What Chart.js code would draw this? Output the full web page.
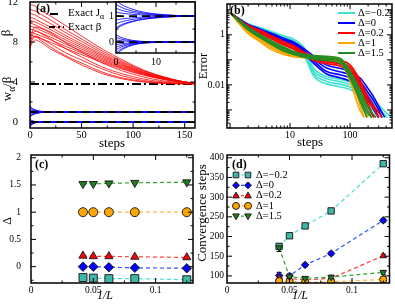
<!DOCTYPE html>
<html>
<head>
<meta charset="utf-8">
<script src="https://cdn.jsdelivr.net/npm/chart.js@4.4.1/dist/chart.umd.min.js"></script>
<style>
  body { margin: 0; background: #fff; }
  #wrap { position: relative; width: 395px; height: 305px; }
  #wrap canvas { position: absolute; left: 0; top: 0; pointer-events: none; }
</style>
</head>
<body>
<div id="wrap">
  <canvas id="ca" width="395" height="305"></canvas>
  <canvas id="cai" width="395" height="305"></canvas>
  <canvas id="cb" width="395" height="305"></canvas>
  <canvas id="cc" width="395" height="305"></canvas>
  <canvas id="cd" width="395" height="305"></canvas>
</div>
<script>
// ---------- (a) beta and couplings against steps ----------
const aSteps = [0, 2, 5, 10, 20, 35, 50, 70, 90, 110, 130, 150, 160];
const aBetaRuns = [
  [11.8, 11.7, 11.6, 11.2, 10.6, 9.6, 8.6, 7.3, 6.2, 5.2, 4.5, 4.0, 3.9],
  [11.3, 11.2, 11.1, 10.8, 10.2, 9.2, 8.3, 7.1, 6.05, 5.15, 4.5, 4.0, 3.88],
  [10.9, 10.8, 10.7, 10.4, 9.84, 8.91, 8.06, 6.92, 5.93, 5.08, 4.44, 4.01, 3.87],
  [10.5, 10.4, 10.3, 10.0, 9.5, 8.62, 7.82, 6.75, 5.81, 5.0, 4.4, 4.0, 3.87],
  [10.2, 10.1, 10.0, 9.75, 9.24, 8.41, 7.64, 6.62, 5.72, 4.95, 4.38, 3.99, 3.86],
  [9.9, 9.84, 9.72, 9.47, 8.99, 8.19, 7.46, 6.48, 5.63, 4.9, 4.35, 3.98, 3.86],
  [9.6, 9.54, 9.43, 9.19, 8.73, 7.98, 7.28, 6.35, 5.54, 4.84, 4.32, 3.97, 3.86],
  [9.3, 9.25, 9.14, 8.92, 8.48, 7.76, 7.1, 6.22, 5.45, 4.79, 4.3, 3.97, 3.86],
  [9.0, 8.95, 8.84, 8.64, 8.22, 7.54, 6.92, 6.09, 5.36, 4.74, 4.27, 3.96, 3.85],
  [8.7, 8.65, 8.55, 8.36, 7.97, 7.33, 6.74, 5.96, 5.27, 4.68, 4.24, 3.95, 3.85],
  [7.6, 8.2, 8.6, 8.4, 7.8, 6.9, 6.2, 5.3, 4.6, 4.15, 3.92, 3.84, 3.82],
  [7.9, 8.6, 9.1, 8.9, 8.3, 7.3, 6.5, 5.5, 4.8, 4.3, 4.0, 3.86, 3.83],
  [8.3, 9.0, 9.5, 9.4, 8.9, 7.9, 7.0, 5.9, 5.1, 4.5, 4.1, 3.9, 3.84],
  [8.1, 8.4, 8.5, 8.2, 7.5, 6.6, 5.9, 5.0, 4.4, 4.05, 3.88, 3.82, 3.82],
  [7.4, 7.9, 8.2, 8.0, 7.3, 6.5, 5.7, 4.85, 4.3, 4.0, 3.86, 3.82, 3.81]
];
const aJSteps = [0, 1, 2, 4, 6, 9, 12, 15, 18, 20, 160];
const aJ1Runs = [
  [1.6, 1.48, 1.39, 1.27, 1.18, 1.1, 1.054, 1.024, 1.009, 1.003, 1],
  [1.45, 1.36, 1.29, 1.2, 1.135, 1.077, 1.04, 1.018, 1.007, 1.002, 1],
  [1.3, 1.24, 1.195, 1.135, 1.09, 1.051, 1.027, 1.012, 1.005, 1.0, 1],
  [1.15, 1.12, 1.1, 1.068, 1.045, 1.026, 1.014, 1.006, 1.002, 1.0, 1],
  [0.85, 0.88, 0.9, 0.93, 0.955, 0.974, 0.986, 0.994, 0.998, 1.0, 1],
  [0.7, 0.76, 0.805, 0.865, 0.91, 0.949, 0.973, 0.988, 0.995, 1.0, 1],
  [0.55, 0.64, 0.71, 0.8, 0.865, 0.923, 0.96, 0.982, 0.993, 0.998, 1],
  [0.5, 0.6, 0.675, 0.775, 0.85, 0.915, 0.955, 0.98, 0.992, 0.998, 1]
];
const aJ0Runs = [
  [0.28, 0.196, 0.14, 0.07, 0.034, 0.011, 0.003, 0, 0, 0, 0],
  [0.18, 0.126, 0.09, 0.045, 0.022, 0.007, 0.002, 0, 0, 0, 0],
  [0.08, 0.056, 0.04, 0.02, 0.01, 0.003, 0.001, 0, 0, 0, 0],
  [-0.1, -0.07, -0.05, -0.025, -0.012, -0.004, -0.001, 0, 0, 0, 0],
  [-0.2, -0.14, -0.1, -0.05, -0.024, -0.008, -0.002, 0, 0, 0, 0],
  [-0.3, -0.21, -0.15, -0.075, -0.036, -0.012, -0.003, 0, 0, 0, 0],
  [-0.42, -0.294, -0.21, -0.105, -0.05, -0.017, -0.004, 0, 0, 0, 0],
  [-0.5, -0.35, -0.25, -0.125, -0.06, -0.02, -0.005, 0, 0, 0, 0]
];
const aExactJ = [1, 0];
const aExactBeta = 3.8;
const aXTicks = [0, 50, 100, 150];
const aYTicks = [0, 4, 8, 12];
const aInsetXTicks = [0, 10];
const aInsetYTicks = [0, 1];

// ---------- (b) error against steps, one band per Delta ----------
const deltaNames = ['Δ=−0.2', 'Δ=0', 'Δ=0.2', 'Δ=1', 'Δ=1.5'];
const bStepsCyan = [1, 2, 3, 5, 8, 12, 17, 25, 40, 70, 100, 150, 200, 300, 350, 420, 480];
const bCyanRuns = [
  [7.6, 2.8, 2.0, 1.32, 0.89, 0.63, 0.32, 0.045, 0.022, 0.0166, 0.0132, 0.0079, 0.0045, 0.0016, 0.00105, 0.0007, 0.0005],
  [7.6, 2.6, 1.86, 1.2, 0.79, 0.56, 0.25, 0.035, 0.018, 0.0132, 0.0105, 0.006, 0.0032, 0.0011, 0.00076, 0.0005, null],
  [7.6, 2.5, 1.74, 1.1, 0.71, 0.5, 0.2, 0.028, 0.014, 0.0105, 0.0083, 0.0047, 0.0024, 0.0008, 0.0005, null, null],
  [7.6, 2.4, 1.58, 1.0, 0.63, 0.45, 0.16, 0.022, 0.011, 0.0083, 0.0066, 0.0035, 0.0016, 0.0005, null, null, null]
];
const bStepsBlue = [1, 2, 3, 5, 8, 12, 17, 25, 40, 70, 100, 150, 200, 250, 300, 340, 380];
const bBlueRuns = [
  [7.6, 2.6, 1.78, 1.12, 0.71, 0.48, 0.28, 0.14, 0.063, 0.045, 0.035, 0.018, 0.0071, 0.0032, 0.0014, 0.0008, 0.0005],
  [7.6, 2.5, 1.66, 1.05, 0.63, 0.44, 0.24, 0.11, 0.048, 0.033, 0.025, 0.0126, 0.005, 0.0022, 0.001, 0.0005, null],
  [7.6, 2.4, 1.55, 0.95, 0.58, 0.4, 0.21, 0.089, 0.035, 0.025, 0.019, 0.0095, 0.0035, 0.0014, 0.0005, null, null],
  [7.6, 2.3, 1.45, 0.89, 0.52, 0.36, 0.18, 0.071, 0.028, 0.019, 0.014, 0.0071, 0.0025, 0.001, 0.0005, null, null]
];
const bStepsRed = [1, 2, 3, 5, 8, 12, 17, 25, 40, 70, 100, 150, 200, 250, 300, 340];
const bRedRuns = [
  [7.6, 2.4, 1.58, 0.89, 0.52, 0.35, 0.2, 0.14, 0.11, 0.095, 0.063, 0.014, 0.0032, 0.0014, 0.0008, 0.0005],
  [7.6, 2.24, 1.45, 0.79, 0.47, 0.32, 0.18, 0.126, 0.095, 0.079, 0.05, 0.0105, 0.0022, 0.0011, 0.0005, null],
  [7.6, 2.14, 1.32, 0.72, 0.42, 0.28, 0.16, 0.11, 0.083, 0.066, 0.04, 0.0079, 0.0017, 0.0005, null, null],
  [7.6, 2.0, 1.2, 0.66, 0.38, 0.25, 0.14, 0.095, 0.071, 0.055, 0.032, 0.006, 0.00126, 0.0005, null, null]
];
const bStepsOrange = [1, 2, 3, 5, 8, 12, 17, 25, 40, 70, 100, 140, 170, 200];
const bOrangeRuns = [
  [7.6, 1.41, 0.76, 0.35, 0.2, 0.16, 0.145, 0.138, 0.132, 0.105, 0.028, 0.0035, 0.001, 0.0005],
  [7.6, 1.26, 0.66, 0.3, 0.18, 0.145, 0.135, 0.126, 0.117, 0.089, 0.02, 0.0022, 0.0005, null],
  [7.6, 1.12, 0.58, 0.25, 0.16, 0.132, 0.123, 0.115, 0.105, 0.076, 0.014, 0.00126, 0.0005, null]
];
const bStepsGreen = [1, 2, 3, 5, 8, 12, 17, 25, 40, 70, 100, 150, 190, 230, 270];
const bGreenRuns = [
  [7.6, 2.0, 1.12, 0.56, 0.32, 0.21, 0.166, 0.148, 0.138, 0.112, 0.035, 0.0056, 0.0016, 0.0008, 0.0005],
  [7.6, 1.86, 1.0, 0.5, 0.28, 0.19, 0.15, 0.132, 0.12, 0.095, 0.028, 0.004, 0.0011, 0.0005, null],
  [7.6, 1.74, 0.91, 0.45, 0.25, 0.17, 0.138, 0.117, 0.107, 0.083, 0.022, 0.0028, 0.0008, 0.0005, null],
  [7.6, 1.58, 0.83, 0.4, 0.22, 0.16, 0.126, 0.107, 0.095, 0.071, 0.018, 0.002, 0.0005, null, null]
];
const bXTicks = [10, 100];
const bYTicks = [0.01, 1];

// ---------- (c) fitted Delta and (d) convergence steps against 1/L ----------
const invL = [0.0417, 0.05, 0.0625, 0.0833, 0.125];
const cCyan = [-0.2, -0.21, -0.22, -0.22, -0.24];
const cBlue = [0, 0, -0.01, -0.02, -0.03];
const cRed = [0.2, 0.19, 0.19, 0.18, 0.17];
const cOrange = [1, 1, 1, 1, 1];
const cGreen = [1.52, 1.52, 1.53, 1.54, 1.55];
const dCyan = [175, 202, 227, 265, 385];
const dBlue = [101, 100, 128, 157, 241];
const dRed = [95, 93, 90, 94, 151];
const dOrange = [87, 86, 84, 85, 91];
const dGreen = [172, 98, 94, 97, 109];
const dErrCyan = [4, 4, 4, 4, 5];
const dErrBlue = [8, 5, 4, 4, 5];
const dErrRed = [6, 4, 3, 3, 4];
const dErrOrange = [3, 3, 2, 2, 6];
const dErrGreen = [10, 6, 4, 4, 5];
const cdXTicks = [0, 0.05, 0.1];
const cYTicks = [0, 0.5, 1, 1.5, 2];
const dYTicks = [100, 150, 200, 250, 300, 350, 400];

// ---------- looks ----------
const SERIF = '"Liberation Serif", "DejaVu Serif", serif';
const W = 395, H = 305;
const lineCols = ['#40e0d0', '#0000ff', '#ff0000', '#ffa500', '#228b22'];
const dashCols = ['#48e0d0', '#3050ff', '#ff3a3a', '#ffb74a', '#33a033'];
const fillCols = ['#3cb8a8', '#0000ff', '#ff0000', '#ffa500', '#1f801f'];
const shapes = [
  {style: 'rect', rot: 0}, {style: 'rectRot', rot: 0}, {style: 'triangle', rot: 0},
  {style: 'circle', rot: 0}, {style: 'triangle', rot: 180}
];

function pts(xs, ys) {
  return xs.map((x, i) => ({x: x, y: ys[i]}));
}

function pad(area, yW, xH) {
  return {left: area.l - yW, top: area.t, right: W - area.r, bottom: H - area.b - xH};
}

function axis(o) {
  return {
    type: o.type || 'linear', min: o.min, max: o.max,
    grid: {display: false, drawTicks: false}, border: {display: false},
    ticks: {
      autoSkip: false, maxRotation: 0, minRotation: 0, padding: o.pad, color: '#000',
      font: {family: SERIF, size: o.size},
      callback: v => String(v)
    },
    afterBuildTicks: s => { s.ticks = o.labels.map(v => ({value: v})); },
    afterFit: s => {
      if (s.isHorizontal()) s.height = o.box; else s.width = o.box;
      s.paddingLeft = 0; s.paddingRight = 0; s.paddingTop = 0; s.paddingBottom = 0;
    }
  };
}

function logMarks(lo, hi) {
  const major = [], minor = [];
  for (let e = lo; e <= hi; e++) {
    const b = Math.pow(10, e);
    major.push(b);
    for (let n = 2; n <= 9; n++) minor.push(n * b);
  }
  return {major, minor};
}

function drawRich(ctx, t) {
  const size = t.size || 12;
  ctx.save();
  ctx.translate(t.x, t.y);
  if (t.rot) ctx.rotate(t.rot * Math.PI / 180);
  ctx.fillStyle = '#000';
  ctx.textBaseline = 'middle';
  ctx.textAlign = 'left';
  const fontOf = p => (t.italic ? 'italic ' : '') + (t.bold ? 'bold ' : '') +
    (p[1] === 'sub' ? size * 0.72 : size) + 'px ' + SERIF;
  let total = 0;
  t.parts.forEach(p => { ctx.font = fontOf(p); total += ctx.measureText(p[0]).width; });
  let x = t.align === 'left' ? 0 : -total / 2;
  t.parts.forEach(p => {
    ctx.font = fontOf(p);
    ctx.fillText(p[0], x, p[1] === 'sub' ? size * 0.32 : 0);
    x += ctx.measureText(p[0]).width;
  });
  ctx.restore();
}

function drawMarker(ctx, shape, x, y, r, fill) {
  ctx.save();
  ctx.fillStyle = fill; ctx.strokeStyle = '#222'; ctx.lineWidth = 1;
  ctx.beginPath();
  if (shape.style === 'rect') {
    ctx.rect(x - r * 0.8, y - r * 0.8, r * 1.6, r * 1.6);
  } else if (shape.style === 'rectRot') {
    ctx.moveTo(x, y - r); ctx.lineTo(x + r, y); ctx.lineTo(x, y + r); ctx.lineTo(x - r, y); ctx.closePath();
  } else if (shape.style === 'circle') {
    ctx.arc(x, y, r, 0, Math.PI * 2);
  } else {
    const s = shape.rot ? -1 : 1;
    ctx.moveTo(x, y - s * r); ctx.lineTo(x + r * 0.95, y + s * r * 0.65); ctx.lineTo(x - r * 0.95, y + s * r * 0.65); ctx.closePath();
  }
  ctx.fill(); ctx.stroke();
  ctx.restore();
}

// frame, inward ticks, titles, keys and error bars for one panel
function deco(o) {
  return {
    id: 'deco',
    beforeDraw(chart) {
      if (!o.fill) return;
      const a = chart.chartArea, ctx = chart.ctx;
      ctx.save(); ctx.fillStyle = o.fill;
      ctx.fillRect(a.left, a.top, a.right - a.left, a.bottom - a.top);
      ctx.restore();
    },
    beforeDatasetsDraw(chart) {
      const ctx = chart.ctx, ys = chart.scales.y;
      chart.data.datasets.forEach((ds, i) => {
        if (!ds.errY) return;
        const meta = chart.getDatasetMeta(i);
        ctx.save(); ctx.strokeStyle = '#000'; ctx.lineWidth = 1;
        meta.data.forEach((el, j) => {
          const v = ds.data[j].y, e = ds.errY[j];
          const y1 = ys.getPixelForValue(v - e), y2 = ys.getPixelForValue(v + e);
          ctx.beginPath();
          ctx.moveTo(el.x, y1); ctx.lineTo(el.x, y2);
          ctx.moveTo(el.x - 2.5, y1); ctx.lineTo(el.x + 2.5, y1);
          ctx.moveTo(el.x - 2.5, y2); ctx.lineTo(el.x + 2.5, y2);
          ctx.stroke();
        });
        ctx.restore();
      });
    },
    afterDraw(chart) {
      const ctx = chart.ctx, a = chart.chartArea;
      const xs = chart.scales.x, ys = chart.scales.y;
      ctx.save();
      ctx.strokeStyle = '#000'; ctx.lineWidth = 1;
      const seg = (x1, y1, x2, y2) => { ctx.beginPath(); ctx.moveTo(x1, y1); ctx.lineTo(x2, y2); ctx.stroke(); };
      const marks = (scale, vals, len) => (vals || []).forEach(v => {
        const p = scale.getPixelForValue(v);
        if (scale.isHorizontal()) {
          if (p < a.left + 1 || p > a.right - 1) return;
          seg(p, a.bottom, p, a.bottom - len); seg(p, a.top, p, a.top + len);
        } else {
          if (p < a.top + 1 || p > a.bottom - 1) return;
          seg(a.left, p, a.left + len, p); seg(a.right, p, a.right - len, p);
        }
      });
      marks(xs, o.xMajor, 5); marks(xs, o.xMinor, 2.5);
      marks(ys, o.yMajor, 5); marks(ys, o.yMinor, 2.5);
      ctx.lineWidth = 1.5;
      ctx.strokeRect(a.left, a.top, a.right - a.left, a.bottom - a.top);
      (o.keys || []).forEach(k => {
        if (k.marker) {
          drawMarker(ctx, k.marker, k.x, k.y, k.r, k.color);
        } else {
          ctx.save();
          ctx.strokeStyle = k.color; ctx.lineWidth = k.width; ctx.setLineDash(k.dash || []);
          seg(k.x1, k.y, k.x2, k.y);
          ctx.restore();
        }
      });
      (o.texts || []).forEach(t => drawRich(ctx, t));
      ctx.restore();
    }
  };
}

function options(padding, scales) {
  return {
    responsive: false, animation: false, events: [],
    layout: {padding: padding},
    scales: scales,
    elements: {point: {radius: 0}, line: {borderCapStyle: 'butt'}},
    plugins: {legend: {display: false}, tooltip: {enabled: false}}
  };
}

function runLine(xs, ys, color, width) {
  return {data: pts(xs, ys), borderColor: color, borderWidth: width, pointRadius: 0,
    fill: false, cubicInterpolationMode: 'monotone'};
}

// ---------- panel (a) ----------
const areaA = {l: 30, t: 2, r: 195, b: 128};
const aSets = [];
aJ1Runs.concat(aJ0Runs).forEach(r => aSets.push(runLine(aJSteps, r, '#0000ff', 0.8)));
aExactJ.forEach(v => aSets.push({data: pts([0, 160], [v, v]), borderColor: '#000', borderWidth: 1.8,
  borderDash: [8, 5], pointRadius: 0}));
aSets.push({data: pts([0, 160], [aExactBeta, aExactBeta]), borderColor: '#000', borderWidth: 1.8,
  borderDash: [9, 3, 2, 3], pointRadius: 0});
aBetaRuns.forEach(r => aSets.push(runLine(aSteps, r, '#ff0000', 0.8)));
aSets.reverse();

new Chart(document.getElementById('ca'), {
  type: 'line',
  data: {datasets: aSets},
  options: options(pad(areaA, 30, 16), {
    x: axis({min: 0, max: 160, labels: aXTicks, pad: 1, size: 10.5, box: 16}),
    y: axis({min: -0.6, max: 12, labels: aYTicks, pad: 12, size: 10.5, box: 30})
  }),
  plugins: [deco({
    xMajor: aXTicks, xMinor: [25, 75, 125], yMajor: aYTicks, yMinor: [2, 6, 10],
    keys: [
      {x1: 50, x2: 58, y: 14, color: '#000', width: 2},
      {x1: 49, x2: 64, y: 27, color: '#000', width: 2, dash: [6, 3, 2, 3]}
    ],
    texts: [
      {parts: [['steps']], x: 112, y: 144, size: 13},
      {parts: [['β']], x: 7, y: 33, size: 13, rot: -90},
      {parts: [['w'], ['α', 'sub'], ['/β']], x: 8, y: 89, size: 13, rot: -90},
      {parts: [['(a)']], x: 36, y: 9, size: 12, bold: true, align: 'left'},
      {parts: [['Exact J'], ['α', 'sub']], x: 68, y: 13, size: 11, align: 'left'},
      {parts: [['Exact β']], x: 68, y: 27, size: 11, align: 'left'}
    ]
  })]
});

// inset of (a)
const areaAi = {l: 116, t: 2, r: 195, b: 53};
const aiSets = [];
aJ1Runs.concat(aJ0Runs).forEach(r => aiSets.push(runLine(aJSteps, r, '#0000ff', 0.8)));
aExactJ.forEach(v => aiSets.push({data: pts([0, 160], [v, v]), borderColor: '#000', borderWidth: 1.8,
  borderDash: [8, 5], pointRadius: 0}));
aiSets.reverse();

new Chart(document.getElementById('cai'), {
  type: 'line',
  data: {datasets: aiSets},
  options: options(pad(areaAi, 12, 14), {
    x: axis({min: 0, max: 19.75, labels: aInsetXTicks, pad: 3, size: 10, box: 14}),
    y: axis({min: -0.42, max: 1.54, labels: aInsetYTicks, pad: 2, size: 10, box: 12})
  }),
  plugins: [deco({
    fill: '#fff',
    xMajor: aInsetXTicks, xMinor: [5, 15], yMajor: aInsetYTicks, yMinor: [0.5]
  })]
});

// ---------- panel (b) ----------
const areaB = {l: 227, t: 4, r: 392, b: 128};
const bSets = [];
[[bStepsCyan, bCyanRuns], [bStepsBlue, bBlueRuns], [bStepsRed, bRedRuns],
 [bStepsOrange, bOrangeRuns], [bStepsGreen, bGreenRuns]].forEach((g, k) => {
  g[1].forEach(r => bSets.push(runLine(g[0], r, lineCols[k], 1.6)));
});
bSets.reverse();
const bxm = logMarks(0, 2), bym = logMarks(-4, 1);
const bKeys = [], bTexts = [];
deltaNames.forEach((n, k) => {
  const y = 13 + k * 10;
  bKeys.push({x1: 338, x2: 355, y: y, color: lineCols[k], width: 2});
  bTexts.push({parts: [[n]], x: 358, y: y, size: 10.5, align: 'left'});
});

new Chart(document.getElementById('cb'), {
  type: 'line',
  data: {datasets: bSets},
  options: options(pad(areaB, 30, 16), {
    x: axis({type: 'logarithmic', min: 0.89, max: 500, labels: bXTicks, pad: 1, size: 10, box: 16}),
    y: axis({type: 'logarithmic', min: 0.00019, max: 17, labels: bYTicks, pad: 2, size: 10, box: 30})
  }),
  plugins: [deco({
    xMajor: bxm.major, xMinor: bxm.minor, yMajor: bym.major, yMinor: bym.minor,
    keys: bKeys,
    texts: bTexts.concat([
      {parts: [['steps']], x: 310, y: 143, size: 13},
      {parts: [['Error']], x: 204, y: 66, size: 12.5, rot: -90},
      {parts: [['(b)']], x: 230, y: 11, size: 12, bold: true, align: 'left'}
    ])
  })]
});

// ---------- panels (c) and (d) ----------
function markerSets(series, errs, r) {
  const out = [];
  series.forEach((s, k) => {
    const st = shapes[k].style;
    const ds = {
      data: pts(invL, s), showLine: true, borderColor: dashCols[k], borderWidth: 1.2,
      borderDash: [4, 3], pointStyle: st, pointRotation: shapes[k].rot,
      pointRadius: st === 'rect' ? r * 1.25 : (st === 'circle' ? r : r * 1.05),
      pointBackgroundColor: fillCols[k], pointBorderColor: '#222', pointBorderWidth: 1, fill: false
    };
    if (errs) ds.errY = errs[k];
    out.push(ds);
  });
  return out.reverse();
}

const areaC = {l: 31, t: 155, r: 193, b: 283};
new Chart(document.getElementById('cc'), {
  type: 'line',
  data: {datasets: markerSets([cCyan, cBlue, cRed, cOrange, cGreen], null, 4.5)},
  options: options(pad(areaC, 30, 16), {
    x: axis({min: 0, max: 0.13, labels: cdXTicks, pad: 2, size: 9.5, box: 16}),
    y: axis({min: -0.3, max: 2.05, labels: cYTicks, pad: 10, size: 9.5, box: 30})
  }),
  plugins: [deco({
    xMajor: cdXTicks, xMinor: [0.025, 0.075, 0.125], yMajor: cYTicks,
    yMinor: [-0.25, 0.25, 0.75, 1.25, 1.75],
    texts: [
      {parts: [['1/L']], x: 105, y: 296, size: 12, italic: true},
      {parts: [['Δ']], x: 8, y: 221, size: 12, rot: -90},
      {parts: [['(c)']], x: 35, y: 165, size: 12, bold: true, align: 'left'}
    ]
  })]
});

const areaD = {l: 227, t: 155, r: 392, b: 283};
const dKeys = [], dTexts = [];
deltaNames.forEach((n, k) => {
  const y = 175 + k * 10.3;
  dKeys.push({x1: 236, x2: 248, y: y, color: dashCols[k], width: 1.2, dash: [3, 2]});
  dKeys.push({marker: shapes[k], x: 236, y: y, r: 3.5, color: fillCols[k]});
  dKeys.push({marker: shapes[k], x: 248, y: y, r: 3.5, color: fillCols[k]});
  dTexts.push({parts: [[n]], x: 256, y: y, size: 10.5, align: 'left'});
});

new Chart(document.getElementById('cd'), {
  type: 'line',
  data: {datasets: markerSets([dCyan, dBlue, dRed, dOrange, dGreen],
    [dErrCyan, dErrBlue, dErrRed, dErrOrange, dErrGreen], 3.6)},
  options: options(pad(areaD, 30, 16), {
    x: axis({min: 0, max: 0.13, labels: cdXTicks, pad: 2, size: 9.5, box: 16}),
    y: axis({min: 82, max: 407, labels: dYTicks, pad: 3, size: 9.5, box: 30})
  }),
  plugins: [deco({
    xMajor: cdXTicks, xMinor: [0.025, 0.075, 0.125], yMajor: dYTicks,
    yMinor: [125, 175, 225, 275, 325, 375],
    keys: dKeys,
    texts: dTexts.concat([
      {parts: [['1/L']], x: 300, y: 296, size: 12, italic: true},
      {parts: [['Convergence steps']], x: 203, y: 213, size: 13, rot: -90},
      {parts: [['(d)']], x: 232, y: 165, size: 12, bold: true, align: 'left'}
    ])
  })]
});
</script>
</body>
</html>
